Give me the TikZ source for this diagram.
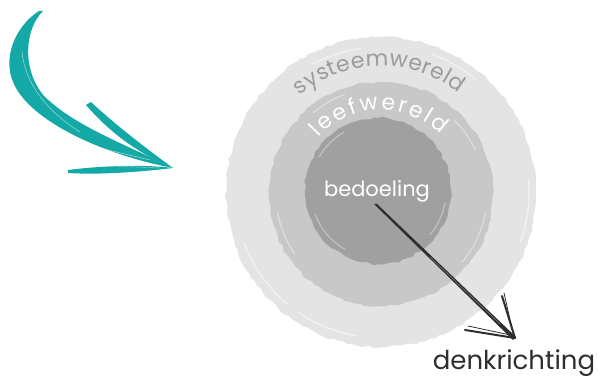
\documentclass[tikz,border=0pt]{standalone}
\usepackage{fontspec}
\setmainfont{Poppins}
\usetikzlibrary{decorations.text,decorations.pathmorphing}
\definecolor{tealarrow}{HTML}{14A9A6}
\definecolor{outerc}{HTML}{E4E4E4}
\definecolor{midc}{HTML}{C8C8C8}
\definecolor{innerc}{HTML}{A0A0A0}
\definecolor{sysgrey}{HTML}{9C9C9C}
\definecolor{darkink}{HTML}{2E2E2E}
\begin{document}
\begin{tikzpicture}[x=1pt,y=1pt,
  ring/.style={decorate,decoration={random steps,segment length=5pt,amplitude=1.2pt}},
  streak/.style={white,opacity=.55,line width=1.2pt,line cap=round},
  ink/.style={darkink,line cap=round},
  lbl/.style={inner sep=0pt}]
\useasboundingbox (0,0) rectangle (598,382);
\pgfmathsetseed{11}
% rings
\coordinate (c) at (381,190);
\fill[outerc,ring] (381,190) circle (155);
\fill[midc,ring] (381,188) circle (112);
\fill[innerc,ring] (378,191) circle (73);
% streaks on the rings
\draw[streak] (c) ++(118:145) arc (118:98:145);
\draw[streak] (c) ++(70:147) arc (70:50:147);
\draw[streak] (c) ++(200:146) arc (200:230:146);
\draw[streak] (c) ++(-20:148) arc (-20:5:148);
\draw[streak] (c) ++(-100:146) arc (-100:-125:146);
\draw[streak,opacity=.4] (381,188) ++(130:106) arc (130:110:106);
\draw[streak,opacity=.4] (381,188) ++(45:104) arc (45:25:104);
\draw[streak,opacity=.4] (381,188) ++(190:105) arc (190:215:105);
\draw[streak,opacity=.4] (381,188) ++(-40:106) arc (-40:-10:106);
\draw[streak,opacity=.35] (378,191) ++(150:68) arc (150:120:68);
\draw[streak,opacity=.35] (378,191) ++(200:67) arc (200:240:67);
\draw[streak,opacity=.35] (378,191) ++(-10:68) arc (-10:-40:68);
% curved labels
\path[decorate,decoration={text along path,text align=fit to path,
  text={|\fontsize{22}{23}\selectfont\color{sysgrey}|systeemwereld}}]
  (c) ++(130:126) arc (130:52:126);
\path[decorate,decoration={text along path,text align=fit to path,
  text={|\fontsize{22}{23}\selectfont\color{white}|leefwereld}}]
  (381,188) ++(138:84) arc (138:45:84);
% centre label
\node[lbl,text=white,font=\fontsize{21}{22}\selectfont] (bed) at (377,191) {bedoeling};
% dark arrow
\coordinate (s) at (376,177);
\coordinate (tip) at (515,44);
\coordinate (b1) at (502,86);
\coordinate (b2) at (465,52);
\fill[darkink] (374,178) -- (377,178) -- (516,45) -- (513,42) -- cycle;
\draw[white,opacity=.45,line width=.4pt] (430,125) -- (500,58);
\draw[ink,line width=2pt] (b1) -- (tip);
\draw[ink,line width=.8pt] (504,89) -- (514,45);
\draw[ink,line width=2pt] (b2) -- (tip);
\draw[ink,line width=.8pt] (468,56) -- (515,46);
\node[lbl,text=darkink,font=\fontsize{26}{27}\selectfont] (denk) at (514,19) {denkrichting};
% teal arrow
\coordinate (t0) at (39,371);
\coordinate (ttip) at (173,214);
\fill[tealarrow] (t0) .. controls (14,355) and (2,322) .. (14,298)
  .. controls (30,262) and (100,228) .. (ttip)
  .. controls (120,240) and (75,256) .. (44,286)
  .. controls (22,312) and (24,352) .. (43,371) -- cycle;
\fill[tealarrow] (91,280) .. controls (110,262) and (140,238) .. (ttip)
  .. controls (150,224) and (118,240) .. (86,277) -- cycle;
\fill[tealarrow] (68,212) .. controls (100,216) and (140,218) .. (ttip)
  .. controls (140,210) and (100,207) .. (68,209) -- cycle;
\draw[white,opacity=.6,line width=.5pt] (22,330) .. controls (25,300) and (45,272) .. (80,250);
\draw[white,opacity=.6,line width=.5pt] (100,234) -- (150,222);
\draw[white,opacity=.5,line width=.4pt] (110,216) -- (160,214);
\end{tikzpicture}
\end{document}
